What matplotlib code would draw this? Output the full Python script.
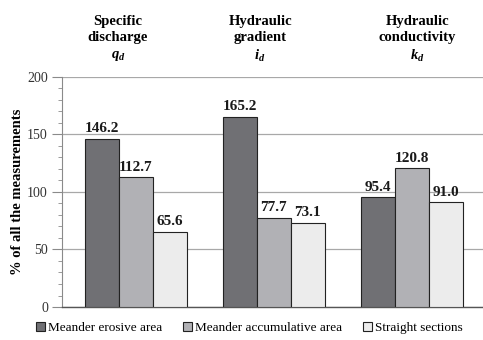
import numpy as np
import matplotlib.pyplot as plt
from matplotlib.ticker import MultipleLocator

plt.rcParams['font.family'] = ['Liberation Serif', 'DejaVu Serif']
plt.rcParams['mathtext.fontset'] = 'custom'
plt.rcParams['mathtext.it'] = 'Liberation Serif:italic:bold'
plt.rcParams['mathtext.rm'] = 'Liberation Serif:bold'

# parametros y zonas del cauce
parametros = ['Specific\ndischarge\n$q_d$', 'Hydraulic\ngradient\n$i_d$',
              'Hydraulic\nconductivity\n$k_d$']
zonas = ['Meander erosive area', 'Meander accumulative area', 'Straight sections']
erosiva = [146.2, 165.2, 95.4]
acumulativa = [112.7, 77.7, 120.8]
recta = [65.6, 73.1, 91.0]

colores = ['#707074', '#b1b1b5', '#ececec']
ancho = 0.246

fig = plt.figure(figsize=(4.83, 3.4), dpi=100)
ax = fig.add_axes([0.128, 0.097, 0.872, 0.677])

x = np.arange(len(parametros))
series = [erosiva, acumulativa, recta]
for i, (vals, nombre) in enumerate(zip(series, zonas)):
    pos = x + (i - 1) * ancho
    ax.bar(pos, vals, ancho, color=colores[i], edgecolor='#222222',
           linewidth=0.8, label=nombre, zorder=3)
    for p, v in zip(pos, vals):
        ax.text(p, v + 3, f'{v:.1f}', ha='center', va='bottom',
                fontsize=11, fontweight='bold', color='#1a1a1a')

ax.set_xlim(-0.536, 2.514)
ax.set_ylim(0, 200)
ax.yaxis.set_major_locator(MultipleLocator(50))
ax.yaxis.set_minor_locator(MultipleLocator(10))
ax.set_xticks([])
ax.grid(axis='y', color='#a8a8a8', linewidth=0.9, zorder=0)
ax.axhline(200, color='#333333', linewidth=1.2, zorder=1)

for lado in ['top', 'right']:
    ax.spines[lado].set_visible(False)
ax.spines['left'].set_color('#8a8a8a')
ax.spines['bottom'].set_color('#555555')
ax.spines['bottom'].set_linewidth(1.0)
ax.tick_params(axis='y', which='major', length=7, color='#8a8a8a',
               labelsize=10, labelcolor='#333333', pad=3)
ax.tick_params(axis='y', which='minor', length=3, color='#8a8a8a')

ax.set_ylabel('% of all the measurements', fontsize=10.5, fontweight='bold',
              labelpad=2)

# titulos de cada grupo arriba del grafico (un poco corridos del centro)
corrimiento = [-0.13, -0.10, 0.04]
for xc, dx, t in zip(x, corrimiento, parametros):
    ax.text(xc + dx, 1.27, t, transform=ax.get_xaxis_transform(),
            ha='center', va='top', fontsize=10.5, fontweight='bold',
            linespacing=1.35)

ax.legend(loc='upper center', bbox_to_anchor=(0.445, -0.012), ncol=3,
          frameon=False, fontsize=9.5, handlelength=0.7, handleheight=0.7,
          handletextpad=0.2, columnspacing=1.6)

fig.savefig('out.png', dpi=100)
